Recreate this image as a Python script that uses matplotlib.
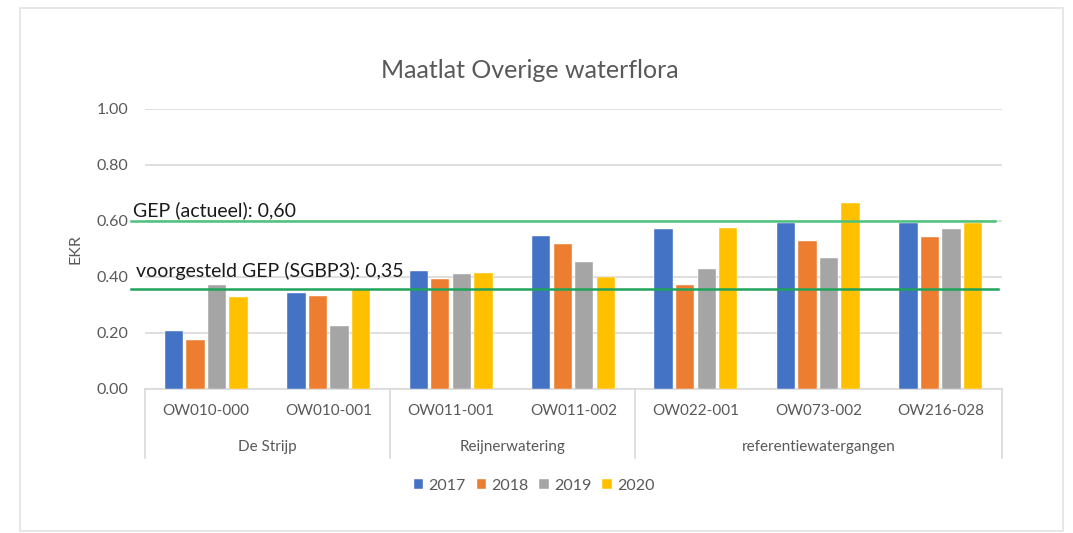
import matplotlib
matplotlib.use("Agg")
import matplotlib.pyplot as plt
from matplotlib.patches import Rectangle
import numpy as np

plt.rcParams['font.family'] = ['Lato', 'DejaVu Sans']

stations = ["OW010-000", "OW010-001", "OW011-001", "OW011-002", "OW022-001", "OW073-002", "OW216-028"]
groups = ["De Strijp", "Reijnerwatering", "referentiewatergangen"]
group_sizes = [2, 2, 3]
years = ["2017", "2018", "2019", "2020"]
ekr_2017 = [0.206, 0.343, 0.423, 0.545, 0.571, 0.594, 0.593]
ekr_2018 = [0.176, 0.332, 0.394, 0.519, 0.370, 0.529, 0.543]
ekr_2019 = [0.371, 0.226, 0.410, 0.455, 0.429, 0.467, 0.571]
ekr_2020 = [0.330, 0.357, 0.413, 0.400, 0.575, 0.663, 0.593]
gep_actueel = 0.60
gep_voorgesteld = 0.357
gep_labels = ["GEP (actueel): 0,60", "voorgesteld GEP (SGBP3): 0,35"]
yticks = [0.0, 0.2, 0.4, 0.6, 0.8, 1.0]
title = "Maatlat Overige waterflora"

colors = ["#4472C4", "#ED7D31", "#A5A5A5", "#FFC000"]
txt = "#595959"
grid = "#D9D9D9"

W, H = 1073, 533
fig = plt.figure(figsize=(W / 100, H / 100), dpi=100)
fig.patch.set_facecolor("white")

# outer chart border
fig.patches.append(Rectangle((20 / W, 1 - 531 / H), (1063 - 20) / W, (531 - 8) / H,
                             transform=fig.transFigure, fill=False,
                             edgecolor="#E3E3E3", linewidth=1.2))

L, R, T, B = 145, 1002, 109, 389
ax = fig.add_axes([L / W, 1 - B / H, (R - L) / W, (B - T) / H])

x = np.arange(len(stations))
series = [ekr_2017, ekr_2018, ekr_2019, ekr_2020]
slot = 0.176
bw = 0.150
for j, (vals, c, yr) in enumerate(zip(series, colors, years)):
    ax.bar(x + (j - 1.5) * slot, vals, width=bw, color=c, label=yr, zorder=3,
           edgecolor="white", linewidth=0.3)

ax.set_xlim(-0.5, len(stations) - 0.5)
ax.set_ylim(0, 1.0)
ax.set_yticks(yticks)
ax.set_yticklabels([f"{v:.2f}" for v in yticks])
ax.tick_params(axis="y", length=0, pad=12, labelsize=11.5, labelcolor=txt)
ax.yaxis.grid(True, color=grid, linewidth=1.2, zorder=0)
for s in ["top", "right", "left"]:
    ax.spines[s].set_visible(False)
ax.spines["bottom"].set_color(grid)
ax.spines["bottom"].set_linewidth(1.2)
ax.set_xticks([])
ax.set_ylabel("EKR", color=txt, fontsize=11.5, labelpad=10)

# multi-level category axis
tr = ax.get_xaxis_transform()
ah = B - T
for i, s in enumerate(stations):
    ax.text(i, -(411 - B) / ah, s, transform=tr, ha="center", va="center",
            fontsize=11, color=txt)
bounds = np.concatenate([[0], np.cumsum(group_sizes)]) - 0.5
for k, g in enumerate(groups):
    ax.text((bounds[k] + bounds[k + 1]) / 2, -(447 - B) / ah, g, transform=tr,
            ha="center", va="center", fontsize=11, color=txt)
for b in bounds:
    ax.plot([b, b], [0, -(458 - B) / ah], transform=tr, color=grid,
            linewidth=1.2, clip_on=False)

# GEP lines
bt = matplotlib.transforms.blended_transform_factory(ax.transAxes, ax.transData)
ax.plot([(131 - L) / (R - L), (995 - L) / (R - L)], [gep_actueel, gep_actueel],
        transform=bt, color="#4CC27C", linewidth=1.8, clip_on=False, zorder=4)
ax.plot([(131 - L) / (R - L), (998 - L) / (R - L)], [gep_voorgesteld, gep_voorgesteld],
        transform=bt, color="#20A35A", linewidth=1.8, clip_on=False, zorder=4)
ax.text((133 - L) / (R - L), gep_actueel + 0.019, gep_labels[0], transform=bt,
        ha="left", va="baseline", fontsize=14, color="#1a1a1a", zorder=5)
ax.text((136 - L) / (R - L), gep_voorgesteld + 0.043, gep_labels[1], transform=bt,
        ha="left", va="baseline", fontsize=14, color="#1a1a1a", zorder=5)

fig.text(530 / W, 1 - 70 / H, title, ha="center", va="center", fontsize=18, color=txt)

leg = fig.legend(loc="center", bbox_to_anchor=(534 / W, 1 - 486 / H), ncol=4,
                 frameon=False, fontsize=11.5, handlelength=0.6, handleheight=0.6,
                 handletextpad=0.3, columnspacing=0.7, labelcolor=txt)

fig.savefig("out.png", dpi=100, facecolor="white")
